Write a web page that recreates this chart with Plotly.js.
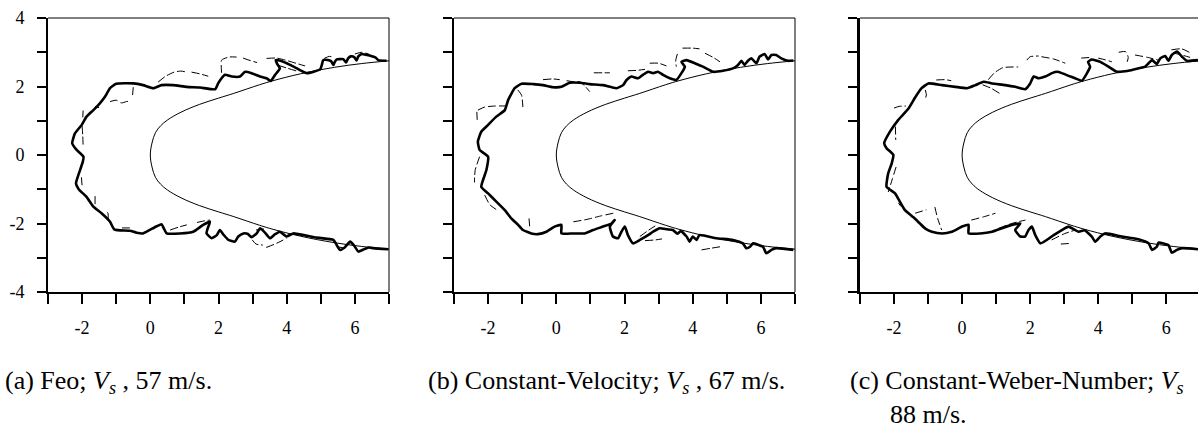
<!DOCTYPE html>
<html>
<head>
<meta charset="utf-8">
<script src="https://cdn.plot.ly/plotly-3.0.1.min.js"></script>
<style>html,body{margin:0;padding:0;background:#fff;}#chart{width:1198px;height:428px;}</style>
</head>
<body>
<div id="chart"></div>
<script>
// ---- tick definitions ----
const xTickVals = [-3,-2,-1,0,1,2,3,4,5,6,7];
const xTickText = ['','-2','','0','','2','','4','','6',''];
const yTickVals = [-4,-3,-2,-1,0,1,2,3,4];
const yTickTextA = ['-4\u00a0\u00a0','','-2\u00a0\u00a0','','0\u00a0\u00a0','','2\u00a0\u00a0','','4\u00a0\u00a0'];
const yTickTextBlank = ['','','','','','','','',''];

// ---- body surface (thin solid curve) ----
const bodyX = [7.00,6.20,5.40,4.40,3.60,3.20,2.45,2.00,1.45,0.90,0.50,0.30,0.15,0.05,0.00,0.05,0.15,0.30,0.50,0.90,1.45,2.00,2.45,3.20,3.60,4.40,5.40,6.20,7.00];
const bodyY = [2.75,2.67,2.56,2.37,2.17,2.05,1.80,1.66,1.48,1.25,1.02,0.85,0.65,0.35,0.00,-0.35,-0.65,-0.85,-1.02,-1.25,-1.48,-1.66,-1.80,-2.05,-2.17,-2.37,-2.56,-2.67,-2.75];

// ---- (a) Feo ----
const feoThickX = [6.93,6.69,6.60,6.45,6.31,6.20,6.10,6.05,5.98,5.88,5.80,5.74,5.66,5.55,5.47,5.40,5.37,5.30,5.15,5.07,5.03,4.98,4.59,4.39,4.10,3.82,3.68,3.72,3.80,3.66,3.53,3.41,3.22,2.97,2.78,2.63,2.39,2.19,2.09,1.99,1.90,1.46,1.07,0.67,0.33,0.09,-0.21,-0.50,-1.00,-1.18,-1.33,-1.48,-1.67,-1.87,-2.01,-2.21,-2.29,-2.16,-1.96,-1.98,-2.06,-2.18,-2.10,-1.87,-1.67,-1.43,-1.18,-1.06,-0.89,-0.60,-0.40,-0.21,0.00,0.19,0.33,0.40,0.48,0.87,1.26,1.55,1.75,1.68,1.65,1.80,1.95,2.04,2.15,2.29,2.48,2.58,2.73,2.85,2.97,3.12,3.22,3.35,3.51,3.65,3.80,3.99,4.19,4.80,5.37,5.45,5.56,5.70,5.86,5.98,6.10,6.25,6.40,6.54,6.98];
const feoThickY = [2.75,2.77,2.85,2.90,2.93,2.95,2.88,2.76,2.86,2.88,2.82,2.70,2.80,2.80,2.79,2.70,2.63,2.74,2.78,2.77,2.63,2.50,2.39,2.48,2.63,2.75,2.77,2.66,2.53,2.34,2.16,2.24,2.29,2.39,2.43,2.29,2.29,2.34,2.24,2.09,1.92,1.97,1.99,2.04,2.04,1.95,2.04,2.09,2.08,1.95,1.70,1.51,1.31,1.12,0.88,0.63,0.34,0.15,-0.05,-0.20,-0.44,-0.83,-1.00,-1.22,-1.51,-1.70,-1.95,-2.17,-2.20,-2.21,-2.27,-2.29,-2.18,-2.08,-2.02,-2.15,-2.29,-2.29,-2.24,-2.04,-1.95,-2.15,-2.29,-2.43,-2.34,-2.19,-2.33,-2.48,-2.53,-2.38,-2.29,-2.30,-2.40,-2.29,-2.14,-2.25,-2.43,-2.32,-2.24,-2.38,-2.29,-2.40,-2.48,-2.60,-2.77,-2.70,-2.53,-2.65,-2.82,-2.76,-2.70,-2.72,-2.75];
const feoDashX = [-1.18,-1.00,-0.85,-0.70,-0.59,null,-0.50,-0.52,null,0.23,0.45,0.70,0.90,1.07,null,1.21,1.45,1.70,null,2.09,2.08,2.09,2.30,2.53,null,2.72,2.95,3.13,null,3.41,3.70,4.00,4.30,4.54,null,3.75,4.00,4.30,null,5.10,5.25,5.35,null,6.00,6.20,6.40,null,-1.97,-1.98,null,-2.00,-1.98,-1.97,null,-1.62,-1.50,null,-2.02,-2.00,null,-1.62,-1.62,null,-1.27,-1.24,-1.24,null,-0.83,-0.60,null,0.58,0.85,1.07,null,1.37,1.60,1.75,null,2.99,3.10,3.30,null,3.40,3.70,4.00,null,3.10,3.40,null,5.50,5.70];
const feoDashY = [1.56,1.60,1.52,1.56,1.57,null,1.98,1.75,null,2.13,2.30,2.42,2.45,2.42,null,2.42,2.37,2.30,null,2.40,2.60,2.77,2.86,2.86,null,2.83,2.75,2.70,null,2.82,2.83,2.76,2.67,2.60,null,2.62,2.54,2.45,null,2.82,2.88,2.86,null,2.95,3.00,2.95,null,1.30,1.10,null,0.85,0.55,0.25,null,1.42,1.38,null,-0.65,-0.90,null,-1.20,-1.50,null,-1.67,-1.70,-1.95,null,-2.13,-2.13,null,-2.19,-2.10,-2.04,null,-1.97,-1.92,-1.90,null,-2.48,-2.60,-2.63,null,-2.70,-2.58,-2.43,null,-2.19,-2.15,null,-2.68,-2.72];

// ---- (b) Constant-Velocity ----
const cvThickX = [6.95,6.79,6.60,6.45,6.31,6.21,6.11,5.96,5.87,5.72,5.62,5.52,5.43,5.33,5.18,4.89,4.60,4.30,4.06,3.82,3.67,3.77,3.67,3.52,3.33,3.13,2.98,2.84,2.69,2.54,2.40,2.20,2.06,1.96,1.76,1.37,0.98,0.69,0.39,0.15,-0.10,-0.39,-0.68,-1.02,-1.22,-1.41,-1.51,-1.76,-2.00,-2.20,-2.30,-2.25,-2.00,-2.05,-2.20,-2.00,-1.76,-1.51,-1.32,-1.12,-0.98,-0.70,-0.54,-0.29,-0.05,0.15,0.15,0.49,0.83,1.08,1.37,1.62,1.71,1.57,1.66,1.81,1.91,2.01,2.10,2.25,2.45,2.69,2.84,3.03,3.25,3.42,3.55,3.65,3.82,3.91,4.00,4.11,4.20,4.69,5.18,5.47,5.57,5.68,5.77,6.06,6.16,6.31,6.45,6.95];
const cvThickY = [2.76,2.75,2.82,2.92,2.92,2.79,2.95,2.87,2.68,2.82,2.75,2.63,2.75,2.63,2.53,2.46,2.43,2.58,2.68,2.77,2.72,2.58,2.39,2.19,2.24,2.34,2.43,2.39,2.43,2.34,2.24,2.29,2.19,2.04,1.95,2.04,2.07,2.11,2.11,1.99,1.98,2.04,2.07,2.08,1.95,1.61,1.31,1.12,0.88,0.68,0.39,0.15,-0.05,-0.44,-0.93,-1.12,-1.36,-1.61,-1.85,-2.04,-2.19,-2.30,-2.31,-2.24,-2.09,-2.04,-2.29,-2.29,-2.29,-2.19,-2.09,-2.00,-1.90,-2.09,-2.38,-2.43,-2.24,-2.09,-2.34,-2.58,-2.48,-2.34,-2.24,-2.14,-2.17,-2.19,-2.30,-2.22,-2.38,-2.53,-2.38,-2.48,-2.34,-2.43,-2.48,-2.58,-2.72,-2.68,-2.58,-2.68,-2.87,-2.77,-2.72,-2.77];
const cvDashX = [-0.39,-0.10,0.10,null,0.30,0.50,0.69,0.85,0.98,null,1.10,1.40,1.57,null,2.10,2.35,2.60,null,2.74,3.00,3.23,null,3.55,3.50,3.52,null,3.70,4.00,4.20,null,4.36,4.60,4.80,null,-2.30,-2.10,-1.80,-1.46,null,-2.33,-2.32,null,-1.13,-1.02,-0.98,null,-2.25,-2.38,-2.40,null,-2.10,-1.95,-1.75,null,-0.80,-0.78,null,0.50,0.90,1.30,1.67,null,2.45,2.70,2.95,null,2.60,2.90,3.10,null,4.26,4.55,4.80,null,5.20,5.40];
const cvDashY = [2.20,2.22,2.20,null,2.17,2.14,2.14,2.00,1.85,null,2.40,2.40,2.40,null,2.46,2.47,2.50,null,2.68,2.68,2.60,null,2.95,2.75,2.58,null,3.12,3.12,3.10,null,2.97,2.85,2.72,null,1.31,1.40,1.43,1.43,null,1.26,1.02,null,1.90,1.75,1.40,null,-0.05,-0.45,-0.80,null,-1.17,-1.45,-1.60,null,-1.85,-2.10,null,-1.95,-1.88,-1.78,-1.70,null,-2.38,-2.20,-2.04,null,-2.50,-2.48,-2.45,null,-2.77,-2.72,-2.68,null,-2.50,-2.52];

// ---- (c) Constant-Weber-Number ----
const cwThickX = [6.93,6.60,6.46,6.31,6.16,6.06,5.97,5.82,5.72,5.58,5.48,5.38,5.18,4.89,4.55,4.30,4.06,3.81,3.70,3.76,3.67,3.52,3.32,3.13,2.93,2.79,2.64,2.44,2.25,2.10,2.00,1.85,1.56,1.27,0.88,0.63,0.39,0.14,-0.20,-0.59,-0.99,-1.19,-1.38,-1.58,-1.88,-2.12,-2.29,-2.22,-2.02,-2.07,-2.17,-2.22,-1.97,-1.83,-1.68,-1.43,-1.24,-1.08,-0.89,-0.59,-0.30,0.00,0.19,0.19,0.53,0.88,1.17,1.46,1.71,1.56,1.71,1.85,1.95,2.05,2.15,2.30,2.49,2.69,2.93,3.13,3.42,3.60,3.81,3.91,4.06,4.20,4.69,5.18,5.48,5.58,5.72,5.77,6.06,6.16,6.31,6.46,6.93];
const cwThickY = [2.77,2.75,2.87,3.02,2.92,2.75,2.89,2.82,2.66,2.77,2.68,2.58,2.53,2.46,2.43,2.58,2.72,2.79,2.72,2.58,2.39,2.17,2.24,2.31,2.39,2.43,2.39,2.29,2.24,2.29,2.09,1.92,1.99,2.04,2.09,2.14,2.04,1.95,1.99,2.04,2.09,1.95,1.68,1.35,1.02,0.68,0.34,0.20,0.00,-0.25,-0.53,-0.93,-1.12,-1.36,-1.61,-1.82,-2.00,-2.15,-2.24,-2.29,-2.24,-2.09,-2.04,-2.29,-2.29,-2.24,-2.14,-2.04,-2.00,-2.19,-2.38,-2.38,-2.19,-2.09,-2.34,-2.58,-2.48,-2.34,-2.19,-2.09,-2.24,-2.20,-2.38,-2.53,-2.38,-2.29,-2.38,-2.46,-2.58,-2.77,-2.68,-2.56,-2.63,-2.85,-2.77,-2.72,-2.75];
const cwDashX = [-1.08,-1.05,-1.10,null,-0.76,-0.50,-0.32,null,0.77,0.95,1.20,1.65,null,0.60,0.85,1.10,null,1.90,2.00,2.25,null,2.33,2.70,3.03,null,3.50,3.80,null,4.00,4.20,4.40,null,4.60,4.80,4.88,4.85,null,5.08,5.45,5.77,null,6.15,6.45,6.73,null,6.20,6.45,6.70,null,-2.00,-1.85,-1.65,null,-1.96,-1.95,null,-1.94,-2.05,-2.17,null,-1.87,-1.80,null,-1.38,-1.05,null,-0.80,-0.72,-0.60,null,0.27,0.65,0.98,null,1.07,1.45,1.86,null,2.63,3.00,3.33,null,2.90,3.20];
const cwDashY = [1.90,1.75,1.60,null,2.19,2.20,2.17,null,2.20,2.40,2.55,2.57,null,2.05,1.95,1.80,null,2.77,2.87,2.89,null,2.87,2.80,2.68,null,2.83,2.85,null,2.83,2.78,2.72,null,3.00,3.02,2.85,2.72,null,2.92,2.85,2.77,null,3.07,3.10,2.97,null,2.98,2.92,2.85,null,1.37,1.42,1.43,null,0.83,0.44,null,-0.35,-0.70,-1.08,null,-1.40,-1.50,null,-1.70,-1.60,null,-1.52,-1.85,-2.19,null,-1.90,-1.80,-1.70,null,-2.14,-2.00,-1.90,null,-2.48,-2.30,-2.19,null,-2.60,-2.58];

// ---- captions ----
const captionA = '(a) Feo; <i>V<sub>s</sub></i> , 57 m/s.';
const captionB = '(b) Constant-Velocity; <i>V<sub>s</sub></i> , 67 m/s.';
const captionC1 = '(c) Constant-Weber-Number; <i>V<sub>s</sub></i>';
const captionC2 = '88 m/s.';

// ---- build ----
const W = 1198, H = 428;
const serif = "'Liberation Serif', 'Times New Roman', serif";
function panelTraces(xa, ya, thickX, thickY, dashX, dashY) {
  return [
    {x: bodyX, y: bodyY, xaxis: xa, yaxis: ya, mode: 'lines', line: {color: '#000', width: 1, shape: 'spline', smoothing: 1}, hoverinfo: 'skip'},
    {x: dashX, y: dashY, xaxis: xa, yaxis: ya, mode: 'lines', connectgaps: false, line: {color: '#000', width: 1, dash: '8px,3px', shape: 'spline', smoothing: 0.6}, hoverinfo: 'skip'},
    {x: thickX, y: thickY, xaxis: xa, yaxis: ya, mode: 'lines', line: {color: '#000', width: 2.6, shape: 'spline', smoothing: 0.45}, hoverinfo: 'skip'}
  ];
}
const data = [].concat(
  panelTraces('x', 'y', feoThickX, feoThickY, feoDashX, feoDashY),
  panelTraces('x2', 'y2', cvThickX, cvThickY, cvDashX, cvDashY),
  panelTraces('x3', 'y3', cwThickX, cwThickY, cwDashX, cwDashY)
);

const yDom = [(H - 292) / H, (H - 18) / H];
function xAxis(domain, range, anchor) {
  return {domain: domain, range: range, anchor: anchor, showgrid: false, zeroline: false,
    showline: true, linecolor: '#000', linewidth: 2, ticks: 'outside', ticklen: 10, tickwidth: 2, tickcolor: '#000',
    tickmode: 'array', tickvals: xTickVals, ticktext: xTickText, ticklabelstandoff: 8,
    tickfont: {family: serif, size: 18, color: '#000'}};
}
function yAxis(anchor, text, lw) {
  return {domain: yDom, range: [-4, 4], anchor: anchor, showgrid: false, zeroline: false,
    showline: true, linecolor: '#000', linewidth: lw, ticks: 'outside', ticklen: 9, tickwidth: 2, tickcolor: '#000',
    tickmode: 'array', tickvals: yTickVals, ticktext: text,
    tickfont: {family: serif, size: 18, color: '#000'}};
}
function frameLine(xr, yr, x0, y0, x1, y1) {
  return {type: 'line', xref: xr, yref: yr, x0: x0, y0: y0, x1: x1, y1: y1, line: {color: '#000', width: 1}};
}
function caption(text, left, mid) {
  return {text: text, xref: 'paper', yref: 'paper', x: left / W, y: (H - mid) / H, xanchor: 'left', yanchor: 'middle',
    showarrow: false, align: 'left', font: {family: serif, size: 26, color: '#000'}};
}

const layout = {
  width: W, height: H, margin: {l: 0, r: 0, t: 0, b: 0, pad: 0},
  font: {family: serif, size: 18, color: '#000'},
  paper_bgcolor: '#fff', plot_bgcolor: '#fff', showlegend: false, hovermode: false,
  xaxis: xAxis([48 / W, 389 / W], [-3, 7], 'y'),
  yaxis: yAxis('x', yTickTextA, 2),
  xaxis2: xAxis([454 / W, 795 / W], [-3, 7], 'y2'),
  yaxis2: yAxis('x2', yTickTextBlank, 2),
  xaxis3: xAxis([860 / W, 1], [-3, 6.93], 'y3'),
  yaxis3: yAxis('x3', yTickTextBlank, 3),
  shapes: [
    frameLine('x domain', 'y domain', 0, 1, 1, 1), frameLine('x domain', 'y domain', 1, 0, 1, 1),
    frameLine('x2 domain', 'y2 domain', 0, 1, 1, 1), frameLine('x2 domain', 'y2 domain', 1, 0, 1, 1),
    frameLine('x3 domain', 'y3 domain', 0, 1, 1, 1)
  ],
  annotations: [
    caption(captionA, 3, 382),
    caption(captionB, 426, 382),
    caption(captionC1, 848, 382),
    caption(captionC2, 888, 414)
  ]
};
Plotly.newPlot('chart', data, layout, {displayModeBar: false});
</script>
</body>
</html>
